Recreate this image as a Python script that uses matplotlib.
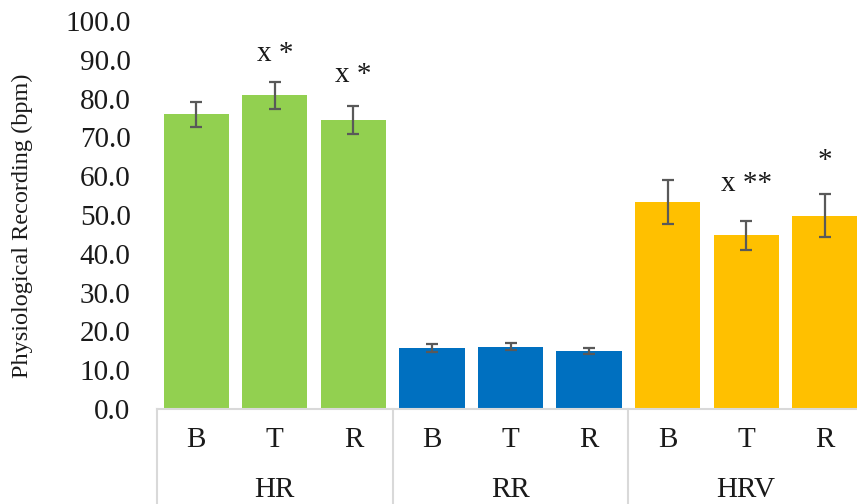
import matplotlib.pyplot as plt
from matplotlib.transforms import blended_transform_factory

plt.rcParams["font.family"] = ["Liberation Serif", "DejaVu Serif"]

groups = ["HR", "RR", "HRV"]
phases = ["B", "T", "R"]
means = [76.0, 80.8, 74.5, 15.8, 16.1, 15.0, 53.3, 44.8, 49.8]
errors = [3.2, 3.5, 3.6, 1.0, 0.8, 0.8, 5.6, 3.7, 5.5]
group_colors = ["#92D050", "#0070C0", "#FFC000"]
marks = ["", "x *", "x *", "", "", "", "", "x **", "*"]
mark_y = [None, 91.5, 86.0, None, None, None, None, 58.0, 64.0]

W, H = 857, 504
TXT = "#1a1a1a"
FS = 21
fig = plt.figure(figsize=(W / 100, H / 100), dpi=100)
# plot area runs a little past the right edge of the canvas
ax = fig.add_axes([157 / W, (H - 409) / H, (864 - 157) / W, 388 / H])

xs = list(range(len(means)))
colors = [c for c in group_colors for _ in phases]
ax.bar(xs, means, width=0.83, color=colors, zorder=2)
ax.errorbar(xs, means, yerr=errors, fmt="none", ecolor="#595959",
            elinewidth=1.6, capsize=4.5, capthick=1.6, zorder=3)

for x, txt, y in zip(xs, marks, mark_y):
    if txt:
        ax.text(x, y, txt, ha="center", va="center", fontsize=FS, color=TXT)

ax.set_xlim(-0.5, len(means) - 0.5)
ax.set_ylim(0, 100)
ax.set_yticks(range(0, 101, 10))
ax.set_yticklabels([f"{v:.1f}" for v in range(0, 101, 10)], fontsize=FS, color=TXT)
ax.tick_params(axis="y", length=0, pad=19)
ax.set_xticks([])
for side in ["left", "right", "top"]:
    ax.spines[side].set_visible(False)
ax.spines["bottom"].set_color("#D9D9D9")
ax.spines["bottom"].set_linewidth(1.5)

fig.text(22 / W, 1 - 226 / H, "Physiological Recording (bpm)", rotation=90,
         ha="center", va="center", fontsize=17.5, color=TXT)

# two-level category axis below the bars
tr = blended_transform_factory(ax.transData, ax.transAxes)
depth = -(504 - 409) / 388
for i in range(len(groups) + 1):
    ax.plot([i * 3 - 0.5, i * 3 - 0.5], [0, depth], transform=tr,
            color="#D9D9D9", lw=1.5, clip_on=False)
for x in xs:
    ax.text(x, -31 / 388, phases[x % 3], transform=tr, ha="center", va="center",
            fontsize=FS, color=TXT)
for g, name in enumerate(groups):
    ax.text(g * 3 + 1, -81 / 388, name, transform=tr, ha="center", va="center",
            fontsize=FS, color=TXT)

fig.savefig("out.png", dpi=100)
